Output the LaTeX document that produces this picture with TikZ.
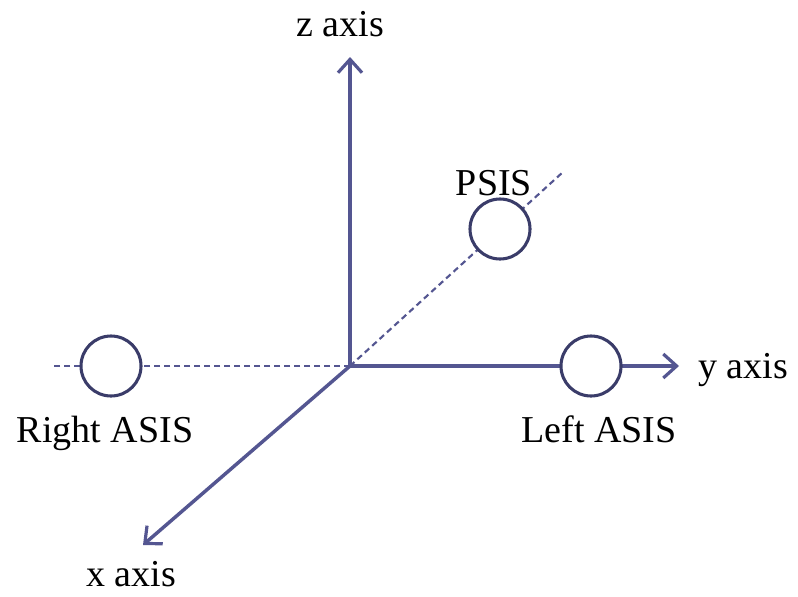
\documentclass[tikz,border=0pt]{standalone}
\usepackage{fontspec}
\setmainfont{Liberation Serif}
\usetikzlibrary{arrows.meta}
\definecolor{axiscol}{RGB}{84,86,145}
\definecolor{ringcol}{RGB}{58,60,105}
\tikzset{
  axisline/.style={draw=axiscol, line width=2.6pt, -{Straight Barb[length=10pt,width=18pt,line width=2.4pt]}},
  dashline/.style={draw=axiscol, line width=1.6pt, dash pattern=on 4.5pt off 3pt},
  ring/.style={circle, draw=ringcol, fill=white, line width=2.3pt, minimum size=45pt, inner sep=0pt},
  lbl/.style={font=\fontsize{28.5}{34}\selectfont, inner sep=0pt, text=black}
}
\begin{document}
\begin{tikzpicture}[x=0.75pt, y=-0.75pt]
\useasboundingbox (0,0) rectangle (798,596);
\coordinate (O) at (350,366);
\coordinate (ztip) at (350,57);
\coordinate (ytip) at (679,366);
\coordinate (xtip) at (143,545);
\coordinate (dl) at (50,366);
\coordinate (dr) at (563,172);
\draw[dashline] (O) -- (dl);
\draw[dashline] (O) -- (dr);
\draw[axisline] (O) -- (ztip);
\draw[axisline] (O) -- (ytip);
\draw[axisline] (O) -- (xtip);
\node[ring] (psis) at (500,229) {};
\node[ring] (rasis) at (111,366) {};
\node[ring] (lasis) at (591,366) {};
\node[lbl, anchor=base] (zl) at (340,36) {z axis};
\node[lbl, anchor=base] (pl) at (494,195) {PSIS};
\node[lbl, anchor=base] (rl) at (105,442) {Right ASIS};
\node[lbl, anchor=base] (ll) at (599,442) {Left ASIS};
\node[lbl, anchor=base west] (yl) at (698,378) {y axis};
\node[lbl, anchor=base] (xl) at (131,586) {x axis};
\end{tikzpicture}
\end{document}
